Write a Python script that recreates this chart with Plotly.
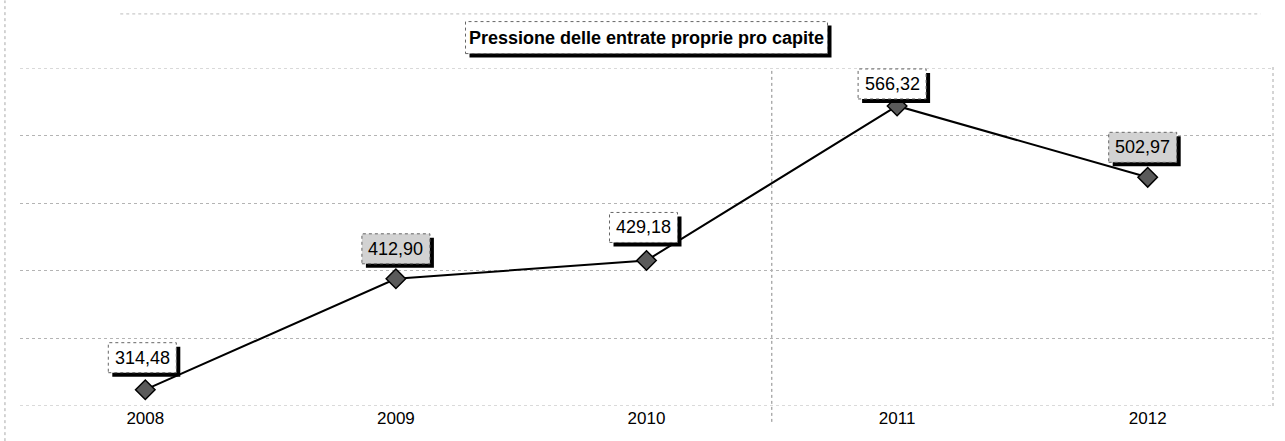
import plotly.graph_objects as go

years = ["2008", "2009", "2010", "2011", "2012"]
values = [314.48, 412.90, 429.18, 566.32, 502.97]
labels = ["314,48", "412,90", "429,18", "566,32", "502,97"]
title_text = "Pressione delle entrate proprie pro capite"

# label offsets (pixels, relative to point) and background per point
label_dx = [-3, 0, -3, -5, -5]
label_dy = [32, 30, 33, 22, 30]
label_bg = ["white", "#d2d2d2", "white", "white", "#d2d2d2"]

FONT = "Liberation Sans, Arial, sans-serif"
BOX_W, BOX_H, SH = 68, 30, 4
GRID = "#b4b4b4"

fig = go.Figure()
fig.add_trace(go.Scatter(
    x=list(range(len(years))), y=values, mode="lines+markers",
    line=dict(color="black", width=2),
    marker=dict(symbol="diamond", size=15, color="#5a5a5a",
                line=dict(color="black", width=1.5)),
    hoverinfo="skip", showlegend=False,
))

annotations = []
shapes = []
for i, (y, t, dx, dy, bg) in enumerate(zip(values, labels, label_dx, label_dy, label_bg)):
    # shadow
    shapes.append(dict(type="rect", xref="x", yref="y", xsizemode="pixel", ysizemode="pixel",
                       xanchor=i, yanchor=y,
                       x0=dx - BOX_W / 2 + SH, x1=dx + BOX_W / 2 + SH,
                       y0=dy - BOX_H / 2 - SH, y1=dy + BOX_H / 2 - SH,
                       fillcolor="black", line=dict(width=0), layer="above"))
    # box
    shapes.append(dict(type="rect", xref="x", yref="y", xsizemode="pixel", ysizemode="pixel",
                       xanchor=i, yanchor=y,
                       x0=dx - BOX_W / 2, x1=dx + BOX_W / 2,
                       y0=dy - BOX_H / 2, y1=dy + BOX_H / 2,
                       fillcolor=bg, line=dict(width=1, color="#666666", dash="dot"), layer="above"))
    annotations.append(dict(x=i, y=y, xref="x", yref="y", text=t, showarrow=False,
                            xshift=dx, yshift=dy, xanchor="center", yanchor="middle",
                            font=dict(family=FONT, size=18, color="black")))

# title box with shadow
TW, TH = 362, 32
TY = 1.09
shapes.append(dict(type="rect", xref="paper", yref="paper", xsizemode="pixel", ysizemode="pixel",
                   xanchor=0.5, yanchor=TY, x0=-TW / 2 + SH, x1=TW / 2 + SH,
                   y0=-TH / 2 - SH, y1=TH / 2 - SH, fillcolor="black", line=dict(width=0)))
shapes.append(dict(type="rect", xref="paper", yref="paper", xsizemode="pixel", ysizemode="pixel",
                   xanchor=0.5, yanchor=TY, x0=-TW / 2, x1=TW / 2,
                   y0=-TH / 2, y1=TH / 2, fillcolor="white",
                   line=dict(width=1, color="#666666", dash="dot")))
annotations.append(dict(x=0.5, y=TY, xref="paper", yref="paper", text="<b>" + title_text + "</b>",
                        showarrow=False, xanchor="center", yanchor="middle",
                        font=dict(family=FONT, size=18, color="black")))

# frame / artefact lines
shapes += [
    dict(type="line", xref="paper", yref="paper", x0=0.6, x1=0.6, y0=-0.047, y1=1.0,
         line=dict(color="#888888", width=1, dash="dot"), layer="below"),
    dict(type="line", xref="paper", yref="paper", x0=0.08, x1=0.99, y0=1.16, y1=1.16,
         line=dict(color="#bdbdbd", width=1, dash="dot"), layer="below"),
    dict(type="line", xref="paper", yref="paper", x0=-0.012, x1=-0.012, y0=-0.104, y1=1.2,
         line=dict(color="#aaaaaa", width=1, dash="dot"), layer="below"),
    dict(type="line", xref="paper", yref="paper", x0=1.0, x1=1.0, y0=0.0, y1=1.01,
         line=dict(color="#aaaaaa", width=1, dash="dot"), layer="below"),
    dict(type="line", xref="paper", yref="y", x0=0, x1=1, y0=300, y1=300,
         line=dict(color=GRID, width=1, dash="dot"), layer="below"),
    dict(type="line", xref="paper", yref="y", x0=0, x1=1, y0=600, y1=600,
         line=dict(color=GRID, width=1, dash="dot"), layer="below"),
]

fig.update_layout(
    width=1285, height=441,
    margin=dict(l=20, r=12, t=68, b=35),
    paper_bgcolor="white", plot_bgcolor="white",
    font=dict(family=FONT, size=14, color="black"),
    xaxis=dict(range=[-0.5, 4.5], tickmode="array", tickvals=list(range(len(years))),
               ticktext=years, showgrid=False, zeroline=False, showline=False,
               ticks="", tickfont=dict(family=FONT, size=17, color="black")),
    yaxis=dict(range=[300, 600], dtick=60, showgrid=True, gridcolor=GRID,
               griddash="dot", gridwidth=1, zeroline=False, showticklabels=False,
               showline=False),
    annotations=annotations,
    shapes=shapes,
)

fig.write_html("out.html", config={"displayModeBar": False},
               post_script="document.body.style.margin='0';")
